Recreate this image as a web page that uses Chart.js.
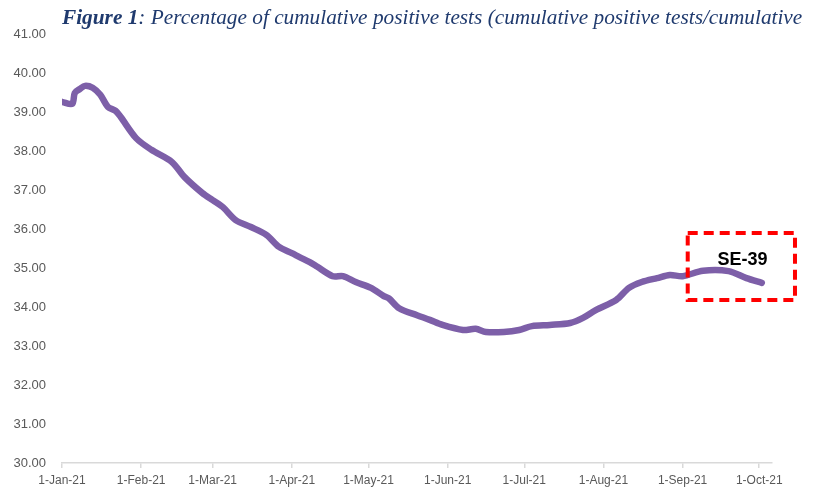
<!DOCTYPE html>
<html>
<head>
<meta charset="utf-8">
<script src="https://cdn.jsdelivr.net/npm/chart.js@4.4.1/dist/chart.umd.min.js"></script>
<style>
  html, body { margin: 0; padding: 0; background: #fff; }
  #wrap { width: 816px; height: 490px; position: relative; }
</style>
</head>
<body>
<div id="wrap"><canvas id="chart" width="816" height="490"></canvas></div>
<script>
/* ── Data ───────────────────────────────────────────────────── */

// days since 1-Jan-21
const days = [0, 4, 5, 7, 9, 12, 15, 18, 21, 23, 29, 35, 43, 48, 55, 59, 63, 68, 74, 80,
  85, 90, 93, 97, 100, 106, 110, 115, 121, 126, 128, 132, 139, 144, 149, 157, 162, 166,
  173, 179, 184, 191, 199, 204, 209, 217, 222, 227, 233, 238, 243, 251, 261, 268, 274];

// % cumulative positive tests, SE-39
const pctPositive = [39.26, 39.21, 39.49, 39.59, 39.67, 39.62, 39.44, 39.13, 39.03, 38.87,
  38.33, 38.03, 37.72, 37.33, 36.92, 36.74, 36.56, 36.23, 36.05, 35.85,
  35.54, 35.38, 35.28, 35.15, 35.03, 34.79, 34.79, 34.64, 34.49, 34.28,
  34.22, 33.97, 33.79, 33.67, 33.54, 33.41, 33.44, 33.36, 33.36, 33.41,
  33.51, 33.54, 33.59, 33.72, 33.92, 34.18, 34.49, 34.64, 34.74, 34.82,
  34.79, 34.93, 34.92, 34.74, 34.62];

const monthDays   = [0, 31, 59, 90, 120, 151, 181, 212, 243, 273];
const monthLabels = ["1-Jan-21", "1-Feb-21", "1-Mar-21", "1-Apr-21", "1-May-21",
  "1-Jun-21", "1-Jul-21", "1-Aug-21", "1-Sep-21", "1-Oct-21"];

const yMin = 30, yMax = 41;

const titleBold = "Figure 1";
const titleRest = ": Percentage of cumulative positive tests (cumulative positive tests/cumulative";
const boxLabel  = "SE-39";
// annotation box in data units: [x0, x1] days, [y0, y1] values
const boxDays = [245, 287];
const boxVals = [35.9, 34.18];

/* ── Plugins ────────────────────────────────────────────────── */

const titlePlugin = {
  id: "figTitle",
  afterDraw(chart) {
    const ctx = chart.ctx;
    const x0 = 62, x1 = 803, base = 24;
    ctx.save();
    ctx.fillStyle = "#1F3A6E";
    ctx.textBaseline = "alphabetic";
    let size = 18;
    const fam = "'Liberation Serif', 'DejaVu Serif', serif";
    ctx.font = `italic bold ${size}px ${fam}`;
    let w1 = ctx.measureText(titleBold).width;
    ctx.font = `italic ${size}px ${fam}`;
    let w2 = ctx.measureText(titleRest).width;
    size = size * (x1 - x0) / (w1 + w2);
    ctx.font = `italic bold ${size}px ${fam}`;
    w1 = ctx.measureText(titleBold).width;
    ctx.fillText(titleBold, x0, base);
    ctx.font = `italic ${size}px ${fam}`;
    ctx.fillText(titleRest, x0 + w1, base);
    ctx.restore();
  }
};

const boxPlugin = {
  id: "seBox",
  afterDatasetsDraw(chart) {
    const { ctx, scales: { x, y } } = chart;
    const l = x.getPixelForValue(boxDays[0]), r = x.getPixelForValue(boxDays[1]);
    const t = y.getPixelForValue(boxVals[0]), b = y.getPixelForValue(boxVals[1]);
    ctx.save();
    ctx.strokeStyle = "#FF0000";
    ctx.lineWidth = 4;
    ctx.setLineDash([10, 6]);
    ctx.strokeRect(l, t, r - l, b - t);
    ctx.setLineDash([]);
    ctx.fillStyle = "#000";
    ctx.font = "bold 18px 'Liberation Sans', Arial, sans-serif";
    ctx.textAlign = "center";
    ctx.textBaseline = "middle";
    ctx.fillText(boxLabel, l + (r - l) * 0.51, t + 27);
    ctx.restore();
  }
};

/* ── Chart ──────────────────────────────────────────────────── */

const fam = "'Liberation Sans', Arial, sans-serif";

new Chart(document.getElementById("chart"), {
  type: "line",
  data: {
    datasets: [{
      data: days.map((d, i) => ({ x: d, y: pctPositive[i] })),
      borderColor: "#7D5FA8",
      borderWidth: 6.5,
      pointRadius: 0,
      tension: 0.3,
      borderCapStyle: "round",
      borderJoinStyle: "round",
      fill: false,
    }],
  },
  options: {
    responsive: false,
    animation: false,
    layout: { padding: { top: 34, right: 44, left: 0, bottom: 0 } },
    plugins: { legend: { display: false }, tooltip: { enabled: false }, title: { display: false } },
    scales: {
      x: {
        type: "linear",
        min: 0,
        max: 278,
        afterBuildTicks: s => { s.ticks = monthDays.map(v => ({ value: v })); },
        afterFit: s => { s.height = 27; },
        ticks: {
          autoSkip: false,
          maxRotation: 0,
          color: "#595959",
          font: { family: fam, size: 12 },
          padding: 5,
          callback: (v, i) => monthLabels[i],
        },
        grid: { drawOnChartArea: false, drawTicks: true, tickLength: 5, color: "#D9D9D9", lineWidth: 1.5 },
        border: { color: "#D9D9D9", width: 1.5 },
      },
      y: {
        min: yMin,
        max: yMax,
        afterFit: s => { s.width = 62; },
        ticks: {
          stepSize: 1,
          color: "#595959",
          font: { family: fam, size: 13 },
          padding: 16,
          callback: v => v.toFixed(2),
        },
        grid: { display: false, drawTicks: false },
        border: { display: false },
      },
    },
  },
  plugins: [titlePlugin, boxPlugin],
});
</script>
</body>
</html>
